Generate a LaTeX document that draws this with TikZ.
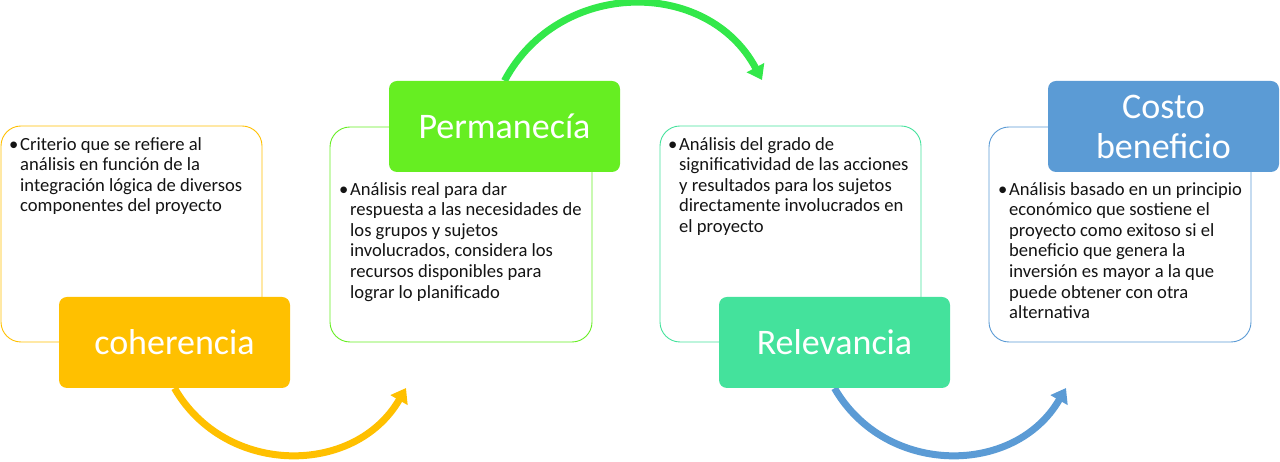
\documentclass[tikz,border=0pt]{standalone}
\usepackage{fontspec}
\setmainfont{Carlito}
\usetikzlibrary{arrows.meta,backgrounds}
\definecolor{cYel}{HTML}{FFC000}
\definecolor{cGrn}{HTML}{66EE22}
\definecolor{cGrnA}{HTML}{33E84A}
\definecolor{cMnt}{HTML}{44E29C}
\definecolor{cBlu}{HTML}{5B9BD5}
\definecolor{cTxt}{HTML}{141414}
\newcommand\bodyfnt{\fontsize{18.6}{20.6}\selectfont}
\newcommand\lblfnt{\fontsize{36}{40}\selectfont}
\newcommand\bulitem[1]{\makebox[11pt][l]{\textbullet}\parbox[t]{250pt}{\raggedright\rule{0pt}{16pt}#1}}
\begin{document}
\begin{tikzpicture}[x=1pt,y=1pt,
  outerbox/.style={draw, line width=0.9pt, rounded corners=20pt, fill=white, inner sep=0pt},
  lblbox/.style={rounded corners=8pt, text=white, font=\lblfnt, align=center, inner sep=0pt,
    minimum width=231pt, minimum height=91pt},
  bodytxt/.style={font=\bodyfnt, text=cTxt, anchor=north west, inner sep=0pt},
  arr/.style={line width=7pt, -{Triangle[width=19pt,length=14pt]}}]
\useasboundingbox (0,0) rectangle (1280,462);
% outer boxes
\node[outerbox, draw=cYel, minimum width=261pt, minimum height=216pt] (b1) at (131.5,228) {};
\node[outerbox, draw=cGrn, minimum width=262pt, minimum height=215pt] (b2) at (461,227.5) {};
\node[outerbox, draw=cMnt, minimum width=261pt, minimum height=216pt] (b3) at (790.5,228) {};
\node[outerbox, draw=cBlu, minimum width=262pt, minimum height=215pt] (b4) at (1120,227.5) {};
% body texts
\node[bodytxt] (t1) at (9,328) {\bulitem{Criterio que se refiere al\\análisis en función de la\\integración lógica de diversos\\componentes del proyecto}};
\node[bodytxt] (t2) at (339,283) {\bulitem{Análisis real para dar\\respuesta a las necesidades de\\los grupos y sujetos\\involucrados, considera los\\recursos disponibles para\\lograr lo planificado}};
\node[bodytxt] (t3) at (668,328) {\bulitem{Análisis del grado de\\significatividad de las acciones\\y resultados para los sujetos\\directamente involucrados en\\el proyecto}};
\node[bodytxt] (t4) at (998,283) {\bulitem{Análisis basado en un principio\\económico que sostiene el\\proyecto como exitoso si el\\beneficio que genera la\\inversión es mayor a la que\\puede obtener con otra\\alternativa}};
% labels
\node[lblbox, fill=cYel] (l1) at (174.5,119.5) {coherencia};
\node[lblbox, fill=cGrn] (l2) at (504.5,335.5) {Permanecía};
\node[lblbox, fill=cMnt] (l3) at (834.5,119.5) {Relevancia};
\node[lblbox, fill=cBlu] (l4) at (1163.5,335.5) {Costo\\beneficio};
% arrow ends
\coordinate (e1) at (406,74);
\coordinate (e2) at (762,382);
\coordinate (e3) at (1066,74);
\begin{scope}[on background layer]
\draw[arr, cYel] (l1.south) to[out=-60, in=-120, looseness=1.13] (e1);
\draw[arr, cGrnA] (l2.north) to[out=62, in=118, looseness=1.15] (e2);
\draw[arr, cBlu] (l3.south) to[out=-60, in=-120, looseness=1.13] (e3);
\end{scope}
\end{tikzpicture}
\end{document}
